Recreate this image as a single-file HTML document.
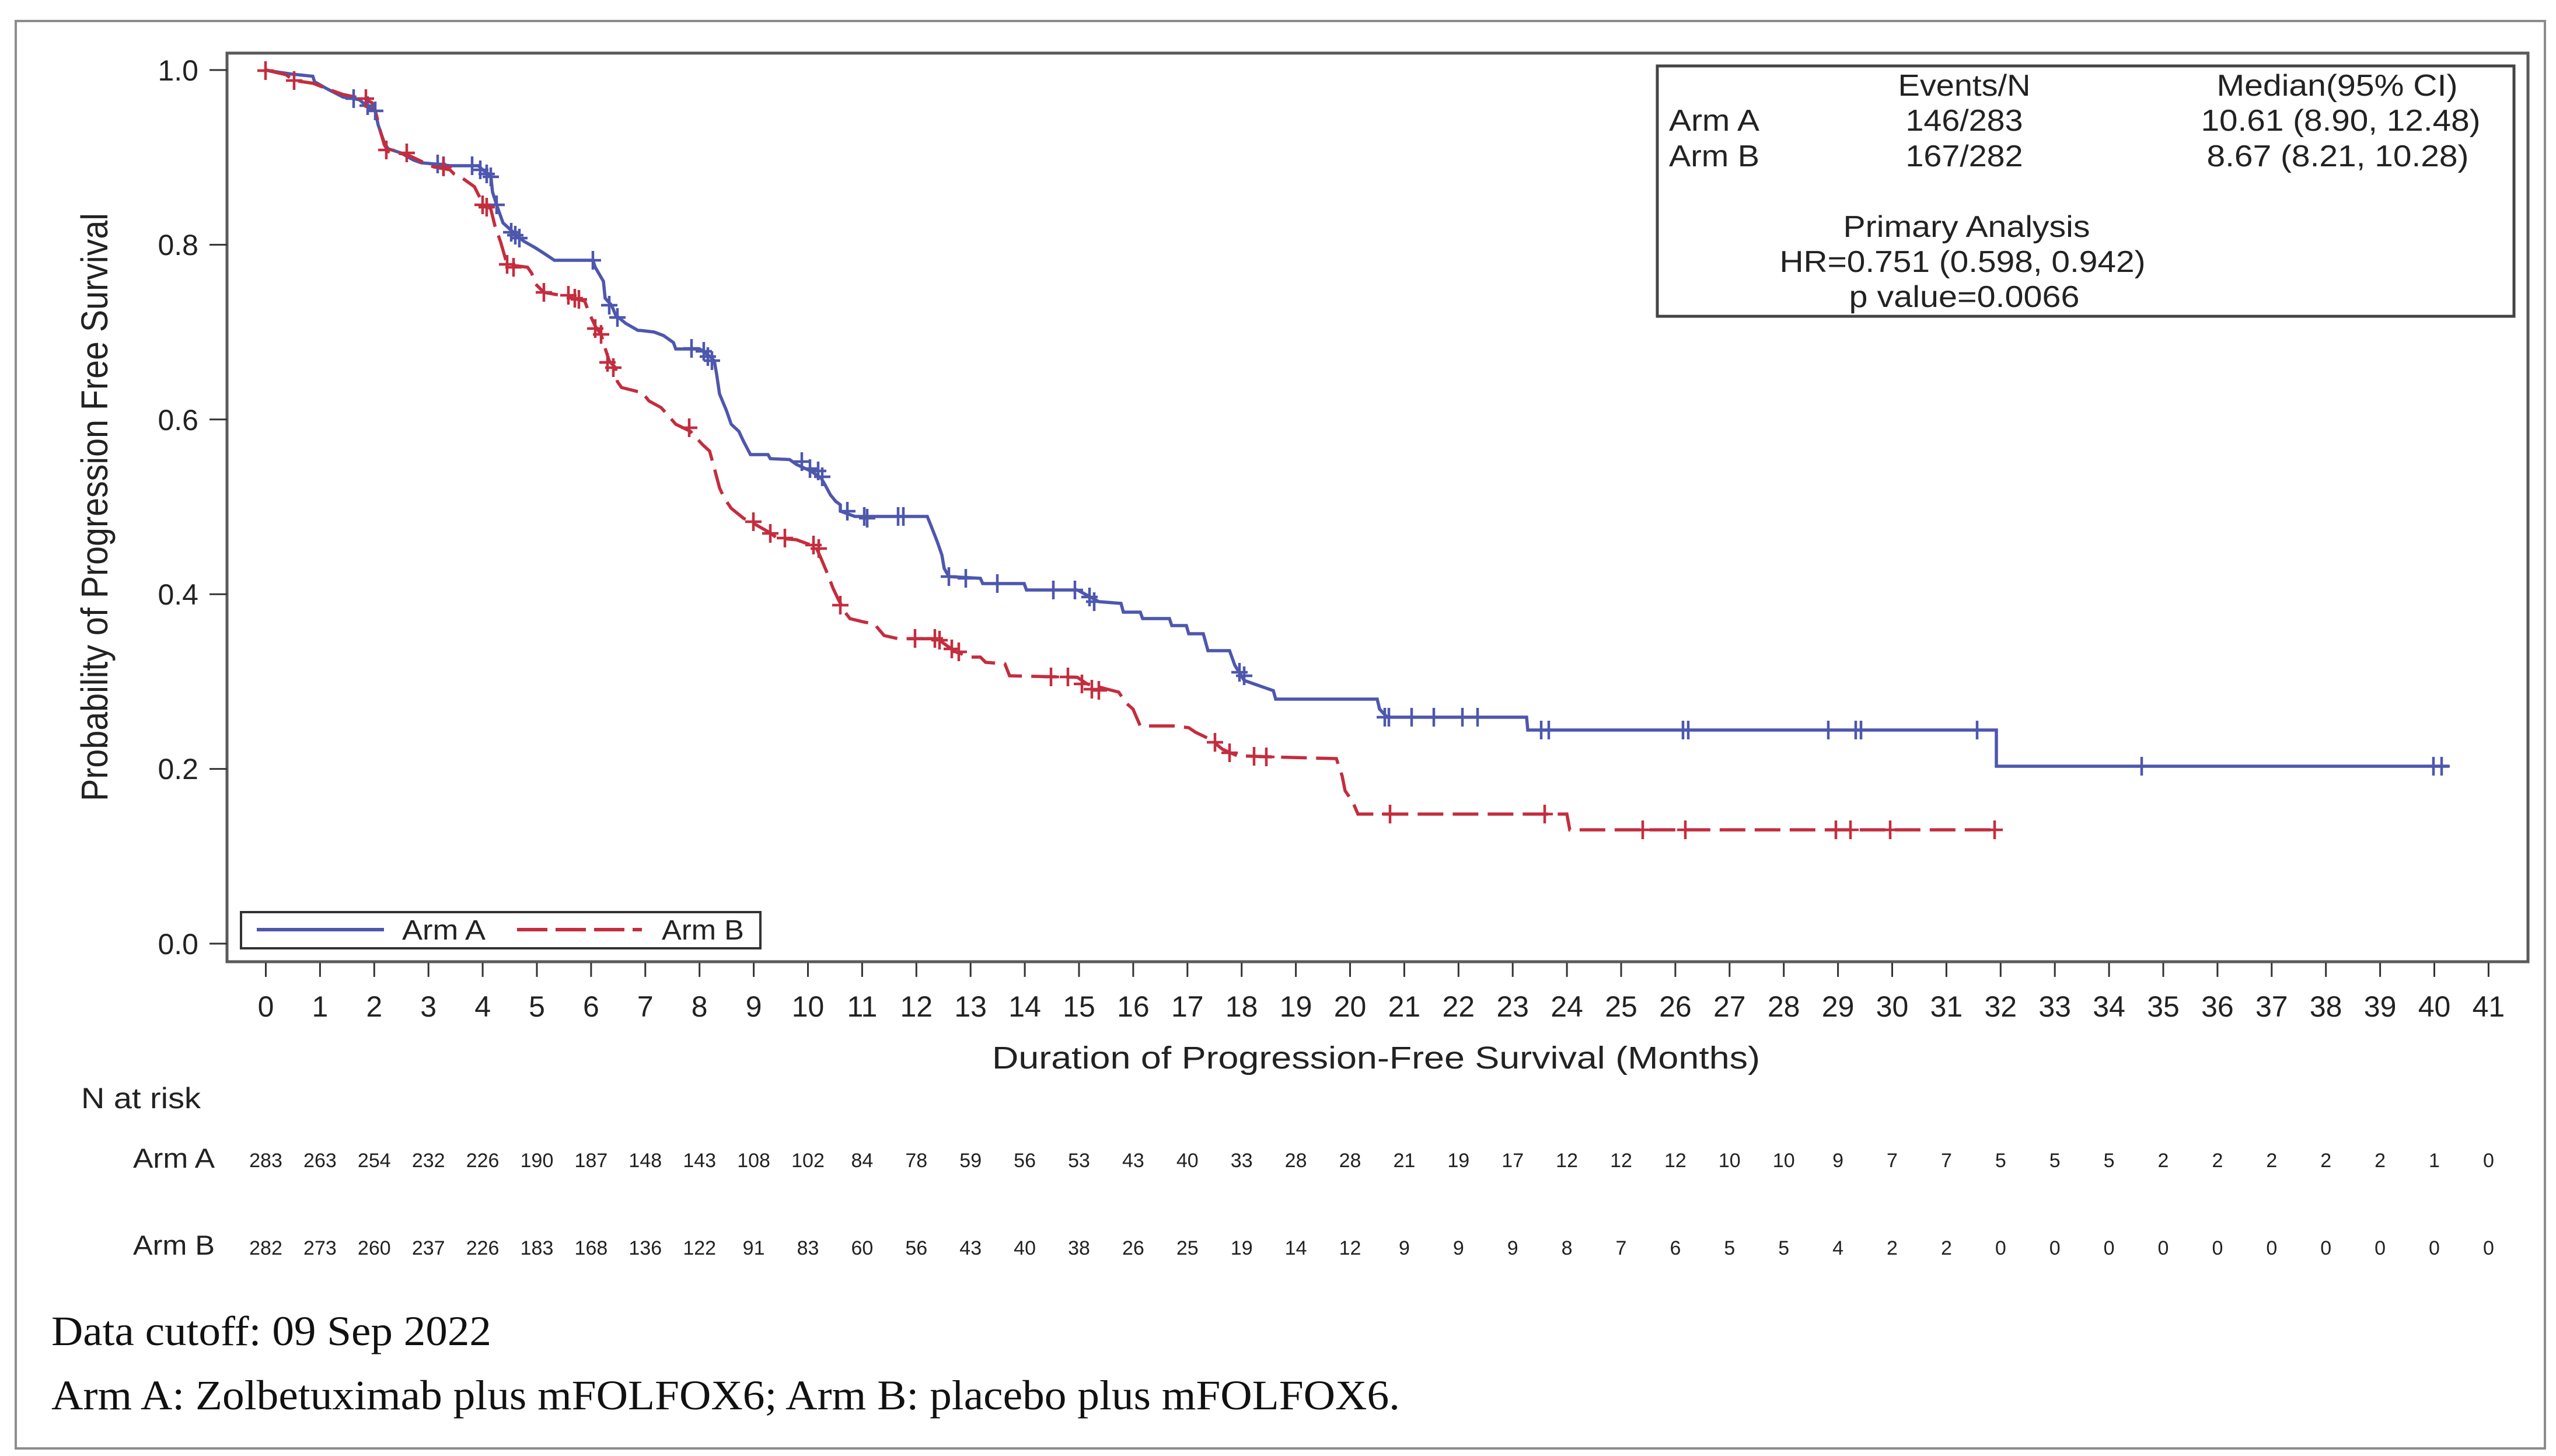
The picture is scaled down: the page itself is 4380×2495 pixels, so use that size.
<!DOCTYPE html>
<html><head><meta charset="utf-8"><style>
html,body{margin:0;padding:0;background:#fff;}
svg{display:block;}
text{font-family:"Liberation Sans",sans-serif;fill:#222;}
.serif{font-family:"Liberation Serif",serif;fill:#111;}
</style></head><body>
<svg width="4380" height="2495" viewBox="0 0 4380 2495" xmlns="http://www.w3.org/2000/svg">
<rect x="0" y="0" width="4380" height="2495" fill="#fff"/>
<rect x="27" y="36" width="4334" height="2446" fill="none" stroke="#8c8c8c" stroke-width="4"/>
<rect x="389" y="91" width="3943" height="1557" fill="none" stroke="#5a5a5a" stroke-width="5"/>

<path d="M359,120H389M359,419.4H389M359,718.8H389M359,1018.2H389M359,1317.6H389M359,1617H389" stroke="#333" stroke-width="3"/>
<g font-size="50" text-anchor="end">
<text x="340" y="138">1.0</text>
<text x="340" y="437">0.8</text>
<text x="340" y="737">0.6</text>
<text x="340" y="1036">0.4</text>
<text x="340" y="1335">0.2</text>
<text x="340" y="1635">0.0</text>
</g>
<text transform="translate(184,869) rotate(-90)" font-size="64" text-anchor="middle" textLength="1008" lengthAdjust="spacingAndGlyphs">Probability of Progression Free Survival</text>

<path stroke="#333" stroke-width="3" d="M455.5,1650v24M548.4,1650v24M641.3,1650v24M734.2,1650v24M827.1,1650v24M920,1650v24M1012.9,1650v24M1105.8,1650v24M1198.7,1650v24M1291.6,1650v24M1384.5,1650v24M1477.4,1650v24M1570.3,1650v24M1663.2,1650v24M1756.1,1650v24M1849,1650v24M1941.9,1650v24M2034.8,1650v24M2127.7,1650v24M2220.6,1650v24M2313.5,1650v24M2406.4,1650v24M2499.3,1650v24M2592.2,1650v24M2685.1,1650v24M2778,1650v24M2870.9,1650v24M2963.8,1650v24M3056.7,1650v24M3149.6,1650v24M3242.5,1650v24M3335.4,1650v24M3428.3,1650v24M3521.2,1650v24M3614.1,1650v24M3707,1650v24M3799.9,1650v24M3892.8,1650v24M3985.7,1650v24M4078.6,1650v24M4171.5,1650v24M4264.4,1650v24"/>
<g font-size="50" text-anchor="middle">
<text x="455.5" y="1742">0</text><text x="548.4" y="1742">1</text><text x="641.3" y="1742">2</text><text x="734.2" y="1742">3</text><text x="827.1" y="1742">4</text><text x="920" y="1742">5</text><text x="1012.9" y="1742">6</text><text x="1105.8" y="1742">7</text><text x="1198.7" y="1742">8</text><text x="1291.6" y="1742">9</text><text x="1384.5" y="1742">10</text><text x="1477.4" y="1742">11</text><text x="1570.3" y="1742">12</text><text x="1663.2" y="1742">13</text><text x="1756.1" y="1742">14</text><text x="1849" y="1742">15</text><text x="1941.9" y="1742">16</text><text x="2034.8" y="1742">17</text><text x="2127.7" y="1742">18</text><text x="2220.6" y="1742">19</text><text x="2313.5" y="1742">20</text><text x="2406.4" y="1742">21</text><text x="2499.3" y="1742">22</text><text x="2592.2" y="1742">23</text><text x="2685.1" y="1742">24</text><text x="2778" y="1742">25</text><text x="2870.9" y="1742">26</text><text x="2963.8" y="1742">27</text><text x="3056.7" y="1742">28</text><text x="3149.6" y="1742">29</text><text x="3242.5" y="1742">30</text><text x="3335.4" y="1742">31</text><text x="3428.3" y="1742">32</text><text x="3521.2" y="1742">33</text><text x="3614.1" y="1742">34</text><text x="3707" y="1742">35</text><text x="3799.9" y="1742">36</text><text x="3892.8" y="1742">37</text><text x="3985.7" y="1742">38</text><text x="4078.6" y="1742">39</text><text x="4171.5" y="1742">40</text><text x="4264.4" y="1742">41</text>
</g>
<text x="2358" y="1831" font-size="54" text-anchor="middle" textLength="1316" lengthAdjust="spacingAndGlyphs">Duration of Progression-Free Survival (Months)</text>

<path fill="none" stroke="#4d57ad" stroke-width="5.5" stroke-linejoin="miter" d="M455,120 L476,123.5 L500,127 L536,130.7 L539,140 L560,152 L588,166.5 L606,169 L616,171 L630,183 L643,190 L648,214 L658,243 L665,255 L687,262 L708,274 L722,279 L746,281 L771,284 L820,284 L827,291 L841,300.5 L844,329 L851,351 L862,382 L883,401 L897,413 L918,425 L932,434 L950,446 L1016,446 L1020,458 L1034,482 L1037,511 L1048,523 L1055,540 L1072,554 L1093,566 L1100,566.5 L1121,569 L1137,575 L1154,587 L1158,598 L1199,598 L1212,607 L1224,618 L1228,641 L1233,675 L1245,704 L1253,727 L1266,739 L1274,756 L1286,779 L1316,779 L1320,786 L1353,787.5 L1365,796 L1390,807.5 L1407,819 L1415,833 L1423,848 L1432,859 L1440,865 L1440,876 L1465,885 L1589,885 L1597,905 L1606,928 L1614,951 L1618,974 L1626,988 L1680,991 L1684,1000 L1755,1000 L1759,1011 L1846,1011 L1863,1020 L1883,1031 L1921,1034 L1925,1049 L1954,1049 L1958,1060 L2004,1060 L2008,1072 L2033,1072 L2037,1086 L2062,1086 L2070,1115 L2107,1115 L2116,1140 L2132,1166 L2149,1172 L2182,1183.5 L2186,1198 L2360,1198 L2364,1215 L2377,1229 L2616,1229 L2618,1251 L3421,1251 L3421,1313 L4197,1313"/>
<path fill="none" stroke="#c42d3e" stroke-width="5.5" stroke-dasharray="44 16" d="M455,120 L490,128 L504,138 L536,142.6 L560,152 L588,162 L623,169 L637.5,176 L644.5,195 L651.5,224 L658.5,248 L665.5,260 L697,264.6 L722,276.5 L743,286 L771,291 L778,298 L792,305 L813,320 L827,348 L841,358 L848,386.5 L858,415 L869,453.5 L904,458 L911,468 L918,487 L932,501 L960,506 L981,511 L1002,516 L1009,535 L1020,559 L1030,573 L1037,597 L1044,618.5 L1055,630.5 L1058,654 L1065,664 L1093,671 L1100,672 L1112,687 L1133,698.5 L1158,727 L1183,739 L1204,762 L1216,773 L1224,802 L1233,836 L1241,853.5 L1253,871 L1274,888 L1295,899 L1316,911 L1332,922 L1365,925 L1398,937 L1407,957 L1419,985.5 L1427.5,1008 L1436,1026 L1448,1049 L1456.5,1060 L1481,1066 L1498,1069 L1515,1089 L1539,1094.5 L1606,1094.5 L1622,1106 L1639,1117.5 L1664,1126 L1680,1126 L1689,1135 L1722,1137.6 L1730,1158 L1846,1160.6 L1863,1172 L1896,1180.6 L1917,1186 L1929,1204 L1941.5,1215 L1954,1244 L2012,1244 L2037,1247 L2049,1255 L2074,1267 L2095,1284 L2120,1295 L2178,1297 L2290,1300 L2300,1330 L2305,1355 L2318,1374 L2327,1395 L2685,1395 L2690,1422 L3421,1422"/>

<path fill="none" stroke="#4d57ad" stroke-width="4.5" d="M592,169h28M606,153v32M616,181h28M630,165v32M629,190h28M643,174v32M736,281h28M750,265v32M746,284h28M760,268v32M795,284h28M809,268v32M809,291h28M823,275v32M820,298h28M834,282v32M827,303h28M841,287v32M837,351h28M851,335v32M862,398h28M876,382v32M869,403h28M883,387v32M876,408h28M890,392v32M1002,446h28M1016,430v32M1030,523h28M1044,507v32M1044,544h28M1058,528v32M1171,597h28M1185,581v32M1192,602h28M1206,586v32M1199,611h28M1213,595v32M1206,618h28M1220,602v32M1360,791h28M1374,775v32M1374,803h28M1388,787v32M1388,807h28M1402,791v32M1395,817h28M1409,801v32M1438,876h28M1452,860v32M1467,885h28M1481,869v32M1472,888h28M1486,872v32M1525,885h28M1539,869v32M1534,885h28M1548,869v32M1612,988h28M1626,972v32M1641,991h28M1655,975v32M1695,1000h28M1709,984v32M1791,1011h28M1805,995v32M1828,1011h28M1842,995v32M1853,1023h28M1867,1007v32M1861,1031h28M1875,1015v32M2110,1152h28M2124,1136v32M2118,1158h28M2132,1142v32M2359,1229h28M2373,1213v32M2366,1229h28M2380,1213v32M2405,1229h28M2419,1213v32M2443,1229h28M2457,1213v32M2492,1229h28M2506,1213v32M2518,1229h28M2532,1213v32M2627,1251h28M2641,1235v32M2640,1251h28M2654,1235v32M2870,1251h28M2884,1235v32M2879,1251h28M2893,1235v32M3119,1251h28M3133,1235v32M3166,1251h28M3180,1235v32M3175,1251h28M3189,1235v32M3374,1251h28M3388,1235v32M3656,1313h28M3670,1297v32M4156,1313h28M4170,1297v32M4170,1313h28M4184,1297v32"/>
<path fill="none" stroke="#c42d3e" stroke-width="4.5" d="M441,121h28M455,105v32M490,138h28M504,122v32M613,169h28M627,153v32M648,257h28M662,241v32M683,262h28M697,246v32M746,286h28M760,270v32M813,351h28M827,335v32M820,355h28M834,339v32M855,453h28M869,437v32M866,458h28M880,442v32M918,501h28M932,485v32M960,506h28M974,490v32M971,511h28M985,495v32M978,513h28M992,497v32M1006,563h28M1020,547v32M1016,573h28M1030,557v32M1027,621h28M1041,605v32M1037,630h28M1051,614v32M1167,733h28M1181,717v32M1277,894h28M1291,878v32M1306,914h28M1320,898v32M1331,922h28M1345,906v32M1380,934h28M1394,918v32M1389,940h28M1403,924v32M1426,1037h28M1440,1021v32M1554,1094h28M1568,1078v32M1588,1094h28M1602,1078v32M1596,1097h28M1610,1081v32M1617,1112h28M1631,1096v32M1629,1117h28M1643,1101v32M1787,1160h28M1801,1144v32M1816,1160h28M1830,1144v32M1840,1172h28M1854,1156v32M1857,1181h28M1871,1165v32M1869,1183h28M1883,1167v32M2068,1272h28M2082,1256v32M2093,1290h28M2107,1274v32M2135,1296h28M2149,1280v32M2156,1297h28M2170,1281v32M2368,1395h28M2382,1379v32M2633,1395h28M2647,1379v32M2801,1422h28M2815,1406v32M2874,1422h28M2888,1406v32M3132,1422h28M3146,1406v32M3157,1422h28M3171,1406v32M3225,1422h28M3239,1406v32M3404,1422h28M3418,1406v32"/>

<rect x="413" y="1563" width="890" height="62" fill="#fff" stroke="#333" stroke-width="4"/>
<line x1="440" y1="1593" x2="658" y2="1593" stroke="#4d57ad" stroke-width="6"/>
<text x="689" y="1610" font-size="48" textLength="143" lengthAdjust="spacingAndGlyphs">Arm A</text>
<line x1="886" y1="1593" x2="1100" y2="1593" stroke="#c42d3e" stroke-width="6" stroke-dasharray="52 14"/>
<text x="1134" y="1610" font-size="48" textLength="141" lengthAdjust="spacingAndGlyphs">Arm B</text>

<rect x="2840" y="113" width="1468" height="429" fill="#fff" stroke="#444" stroke-width="5"/>
<g font-size="52">
<text x="3366" y="164" text-anchor="middle" textLength="227" lengthAdjust="spacingAndGlyphs">Events/N</text>
<text x="4005" y="164" text-anchor="middle" textLength="413" lengthAdjust="spacingAndGlyphs">Median(95% CI)</text>
<text x="2860" y="224" textLength="155" lengthAdjust="spacingAndGlyphs">Arm A</text>
<text x="3366" y="224" text-anchor="middle" textLength="201" lengthAdjust="spacingAndGlyphs">146/283</text>
<text x="4011" y="224" text-anchor="middle" textLength="479" lengthAdjust="spacingAndGlyphs">10.61 (8.90, 12.48)</text>
<text x="2860" y="285" textLength="155" lengthAdjust="spacingAndGlyphs">Arm B</text>
<text x="3366" y="285" text-anchor="middle" textLength="201" lengthAdjust="spacingAndGlyphs">167/282</text>
<text x="4006" y="285" text-anchor="middle" textLength="449" lengthAdjust="spacingAndGlyphs">8.67 (8.21, 10.28)</text>
<text x="3370" y="406" text-anchor="middle" textLength="423" lengthAdjust="spacingAndGlyphs">Primary Analysis</text>
<text x="3363" y="466" text-anchor="middle" textLength="627" lengthAdjust="spacingAndGlyphs">HR=0.751 (0.598, 0.942)</text>
<text x="3366" y="526" text-anchor="middle" textLength="395" lengthAdjust="spacingAndGlyphs">p value=0.0066</text>
</g>

<text x="139" y="1899" font-size="50" textLength="205" lengthAdjust="spacingAndGlyphs">N at risk</text>
<text x="228" y="2001" font-size="47" textLength="140" lengthAdjust="spacingAndGlyphs">Arm A</text>
<text x="228" y="2150" font-size="47" textLength="140" lengthAdjust="spacingAndGlyphs">Arm B</text>
<g font-size="34" text-anchor="middle" style="fill:#333">
<text x="455.5" y="2000">283</text><text x="548.4" y="2000">263</text><text x="641.3" y="2000">254</text><text x="734.2" y="2000">232</text><text x="827.1" y="2000">226</text><text x="920" y="2000">190</text><text x="1012.9" y="2000">187</text><text x="1105.8" y="2000">148</text><text x="1198.7" y="2000">143</text><text x="1291.6" y="2000">108</text><text x="1384.5" y="2000">102</text><text x="1477.4" y="2000">84</text><text x="1570.3" y="2000">78</text><text x="1663.2" y="2000">59</text><text x="1756.1" y="2000">56</text><text x="1849" y="2000">53</text><text x="1941.9" y="2000">43</text><text x="2034.8" y="2000">40</text><text x="2127.7" y="2000">33</text><text x="2220.6" y="2000">28</text><text x="2313.5" y="2000">28</text><text x="2406.4" y="2000">21</text><text x="2499.3" y="2000">19</text><text x="2592.2" y="2000">17</text><text x="2685.1" y="2000">12</text><text x="2778" y="2000">12</text><text x="2870.9" y="2000">12</text><text x="2963.8" y="2000">10</text><text x="3056.7" y="2000">10</text><text x="3149.6" y="2000">9</text><text x="3242.5" y="2000">7</text><text x="3335.4" y="2000">7</text><text x="3428.3" y="2000">5</text><text x="3521.2" y="2000">5</text><text x="3614.1" y="2000">5</text><text x="3707" y="2000">2</text><text x="3799.9" y="2000">2</text><text x="3892.8" y="2000">2</text><text x="3985.7" y="2000">2</text><text x="4078.6" y="2000">2</text><text x="4171.5" y="2000">1</text><text x="4264.4" y="2000">0</text>
<text x="455.5" y="2150">282</text><text x="548.4" y="2150">273</text><text x="641.3" y="2150">260</text><text x="734.2" y="2150">237</text><text x="827.1" y="2150">226</text><text x="920" y="2150">183</text><text x="1012.9" y="2150">168</text><text x="1105.8" y="2150">136</text><text x="1198.7" y="2150">122</text><text x="1291.6" y="2150">91</text><text x="1384.5" y="2150">83</text><text x="1477.4" y="2150">60</text><text x="1570.3" y="2150">56</text><text x="1663.2" y="2150">43</text><text x="1756.1" y="2150">40</text><text x="1849" y="2150">38</text><text x="1941.9" y="2150">26</text><text x="2034.8" y="2150">25</text><text x="2127.7" y="2150">19</text><text x="2220.6" y="2150">14</text><text x="2313.5" y="2150">12</text><text x="2406.4" y="2150">9</text><text x="2499.3" y="2150">9</text><text x="2592.2" y="2150">9</text><text x="2685.1" y="2150">8</text><text x="2778" y="2150">7</text><text x="2870.9" y="2150">6</text><text x="2963.8" y="2150">5</text><text x="3056.7" y="2150">5</text><text x="3149.6" y="2150">4</text><text x="3242.5" y="2150">2</text><text x="3335.4" y="2150">2</text><text x="3428.3" y="2150">0</text><text x="3521.2" y="2150">0</text><text x="3614.1" y="2150">0</text><text x="3707" y="2150">0</text><text x="3799.9" y="2150">0</text><text x="3892.8" y="2150">0</text><text x="3985.7" y="2150">0</text><text x="4078.6" y="2150">0</text><text x="4171.5" y="2150">0</text><text x="4264.4" y="2150">0</text>
</g>

<text class="serif" x="88" y="2305" font-size="72" textLength="754" lengthAdjust="spacingAndGlyphs">Data cutoff: 09 Sep 2022</text>
<text class="serif" x="88" y="2415" font-size="72" textLength="2311" lengthAdjust="spacingAndGlyphs">Arm A: Zolbetuximab plus mFOLFOX6; Arm B: placebo plus mFOLFOX6.</text>
</svg>
</body></html>
